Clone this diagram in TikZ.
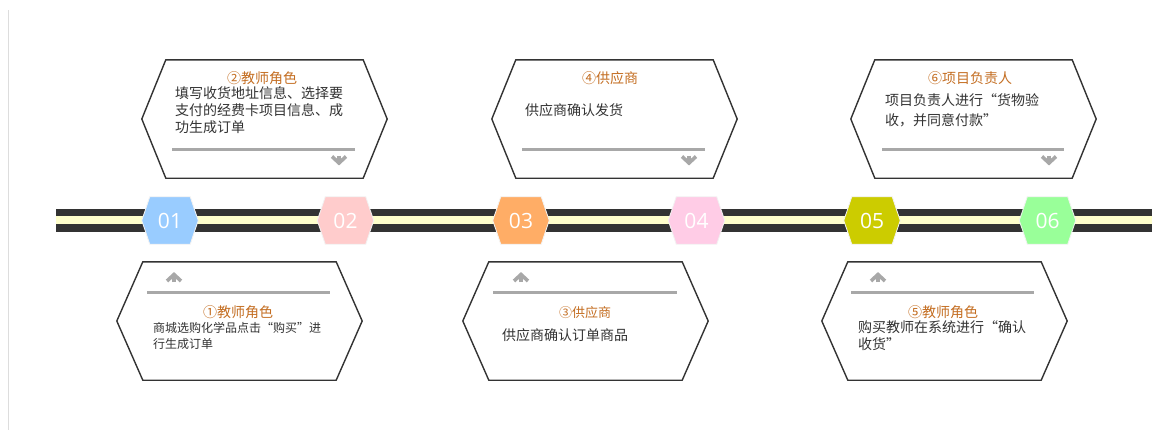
\documentclass[tikz,border=0pt]{standalone}
\usepackage{fontspec}
\newfontfamily\cjk{Noto Sans CJK SC}
\newfontfamily\numfont{Open Sans}
\definecolor{trackdark}{HTML}{333333}
\definecolor{trackyellow}{HTML}{FFFFCC}
\definecolor{cA}{HTML}{99CCFF}
\definecolor{cB}{HTML}{FFCCCC}
\definecolor{cC}{HTML}{FFAD66}
\definecolor{cD}{HTML}{FFCCE6}
\definecolor{cE}{HTML}{CCCC00}
\definecolor{cF}{HTML}{99FF99}
\definecolor{titlec}{HTML}{C46E22}
\definecolor{bodyc}{HTML}{333333}
\definecolor{rulec}{HTML}{A8A8A8}
\definecolor{edgec}{HTML}{333333}
\definecolor{vlinec}{HTML}{DDDDDD}
\pgfdeclarelayer{bg}
\pgfsetlayers{bg,main}
\newcommand\hexof[3]{\path[#3] (#1.west) -- ([xshift=#2]#1.north west) -- ([xshift=-#2]#1.north east) -- (#1.east) -- ([xshift=-#2]#1.south east) -- ([xshift=#2]#1.south west) -- cycle;}
\newcommand\darr[2]{\draw[arrowline] ({#1-7},{#2-3}) -- (#1,{#2+3.5}) -- ({#1+7},{#2-3}); \draw[arrowline] (#1,{#2-4}) -- (#1,{#2+3.5});}
\newcommand\uarr[2]{\draw[arrowline] ({#1-7},{#2+3}) -- (#1,{#2-3.5}) -- ({#1+7},{#2+3}); \draw[arrowline] (#1,{#2+4}) -- (#1,{#2-3.5});}
\begin{document}
\begin{tikzpicture}[x=1pt,y=-1pt,
  marker/.style={minimum width=56, minimum height=47, inner sep=0, text=white, font=\numfont\fontsize{21}{21}\selectfont},
  boxholder/.style={minimum width=245, minimum height=118, inner sep=0},
  boxedge/.style={draw=edgec, line width=1.4, fill=white, line join=miter},
  grayrule/.style={draw=rulec, line width=3},
  arrowline/.style={draw=rulec, line width=3.6, line join=miter},
  title/.style={anchor=base, inner sep=0, text=titlec, font=\cjk\fontsize{14}{17}\selectfont},
  body/.style={anchor=base west, inner sep=0, text=bodyc, text width=230, align=left, font=\cjk\fontsize{14}{17}\selectfont},
]
\useasboundingbox (0,0) rectangle (1152,434);

% markers
\node[marker] (m1) at (170,220.5) {01};
\node[marker] (m2) at (345.5,220.5) {02};
\node[marker] (m3) at (521,220.5) {03};
\node[marker] (m4) at (696.5,220.5) {04};
\node[marker] (m5) at (872,220.5) {05};
\node[marker] (m6) at (1047.5,220.5) {06};

\begin{pgfonlayer}{bg}
  \fill[white] (0,0) rectangle (1152,434);
  \draw[vlinec, line width=1] (8.5,10) -- (8.5,430);
  \fill[trackdark] (56,209) rectangle (1152,232);
  \fill[trackyellow] (56,216) rectangle (1152,224);
  \hexof{m1}{8}{fill=cA, draw=white!90!gray, line width=0.8}
  \hexof{m2}{8}{fill=cB, draw=white!90!gray, line width=0.8}
  \hexof{m3}{8}{fill=cC, draw=white!90!gray, line width=0.8}
  \hexof{m4}{8}{fill=cD, draw=white!90!gray, line width=0.8}
  \hexof{m5}{8}{fill=cE, draw=white!90!gray, line width=0.8}
  \hexof{m6}{8}{fill=cF, draw=white!90!gray, line width=0.8}
\end{pgfonlayer}

% top boxes
\node[boxholder] (b2) at (264.5,119) {};
\node[boxholder] (b4) at (614.5,119) {};
\node[boxholder] (b6) at (973.5,119) {};
% bottom boxes
\node[boxholder] (b1) at (239.5,321) {};
\node[boxholder] (b3) at (585.5,321) {};
\node[boxholder] (b5) at (944.5,321) {};

\hexof{b2}{24}{boxedge}
\hexof{b4}{24}{boxedge}
\hexof{b6}{24}{boxedge}
\hexof{b1}{26}{boxedge}
\hexof{b3}{26}{boxedge}
\hexof{b5}{26}{boxedge}

% rules
\draw[grayrule] (172,149) -- (355,149);
\draw[grayrule] (522,149) -- (705,149);
\draw[grayrule] (882,149) -- (1064,149);
\draw[grayrule] (147,292) -- (330,292);
\draw[grayrule] (493,292) -- (677,292);
\draw[grayrule] (851,292) -- (1034,292);

% arrows
\darr{339}{159.5}
\darr{689}{159.5}
\darr{1049}{159.5}
\uarr{174}{278}
\uarr{521}{278}
\uarr{878}{278}

% texts top
\node[title] (t2) at (262,83) {②教师角色};
\node[body] (d2) at (175,98) {填写收货地址信息、选择要\\支付的经费卡项目信息、成\\功生成订单};
\node[title] (t4) at (610,83) {④供应商};
\node[body] (d4) at (525,115) {供应商确认发货};
\node[title] (t6) at (970,83) {⑥项目负责人};
\node[body, font=\cjk\fontsize{14}{20}\selectfont] (d6) at (885,105) {项目负责人进行“货物验\\收，并同意付款”};

% texts bottom
\node[title] (t1) at (238,317) {①教师角色};
\node[body, font=\cjk\fontsize{12}{16}\selectfont] (d1) at (153,332) {商城选购化学品点击“购买”进\\行生成订单};
\node[title, font=\cjk\fontsize{13}{16}\selectfont] (t3) at (585,317) {③供应商};
\node[body] (d3) at (502,340) {供应商确认订单商品};
\node[title] (t5) at (943,317) {⑤教师角色};
\node[body] (d5) at (858,332) {购买教师在系统进行“确认\\收货”};
\end{tikzpicture}
\end{document}
